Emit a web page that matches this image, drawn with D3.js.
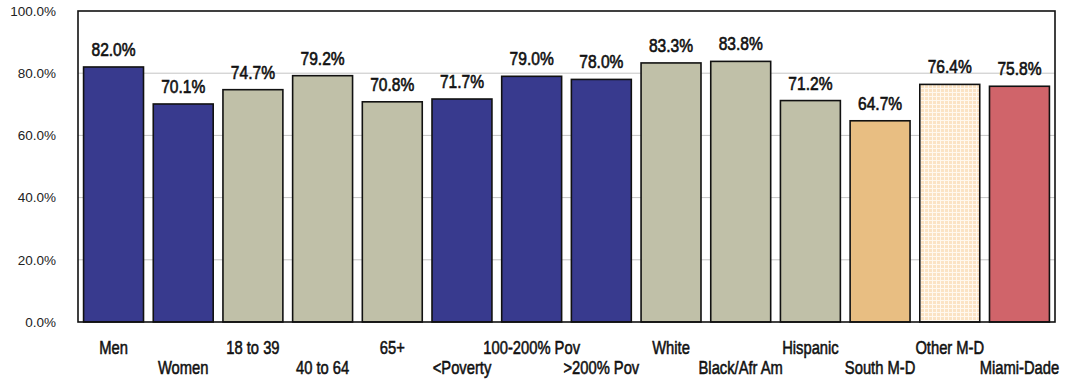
<!DOCTYPE html>
<html>
<head>
<meta charset="utf-8">
<script src="https://cdn.jsdelivr.net/npm/d3@7"></script>
<style>
  html, body { margin: 0; padding: 0; background: #fff; }
  svg { display: block; }
  text { font-family: "Liberation Sans", Arial, sans-serif; }
</style>
</head>
<body>
<svg id="chart" width="1070" height="379"></svg>
<script>
// Share of adults by group (percent)
const categories = ["Men", "Women", "18 to 39", "40 to 64", "65+", "<Poverty", "100-200% Pov",
  ">200% Pov", "White", "Black/Afr Am", "Hispanic", "South M-D", "Other M-D", "Miami-Dade"];
const values = [82.0, 70.1, 74.7, 79.2, 70.8, 71.7, 79.0, 78.0, 83.3, 83.8, 71.2, 64.7, 76.4, 75.8];
const groups = ["sex", "sex", "age", "age", "age", "pov", "pov", "pov", "race", "race", "race", "south", "other", "county"];
const yTicks = [0, 20, 40, 60, 80, 100];

const fills = {
  sex: "#383a8e", pov: "#383a8e",
  age: "#c0c0a8", race: "#c0c0a8",
  south: "#e8be82", other: "url(#checks)", county: "#d0646a"
};

const svg = d3.select("#chart");
const margin = { left: 78, right: 15, top: 11, bottom: 57 };
const W = 1070, H = 379;
const NARROW = 0.82; // horizontal squeeze for a condensed face

// light check pattern
const defs = svg.append("defs");
const pat = defs.append("pattern").attr("id", "checks").attr("patternUnits", "userSpaceOnUse")
  .attr("width", 4).attr("height", 4);
pat.append("rect").attr("width", 4).attr("height", 4).attr("fill", "#fbe3c4");
pat.append("rect").attr("x", 0).attr("y", 0).attr("width", 4).attr("height", 1).attr("fill", "#fff8ee");
pat.append("rect").attr("x", 0).attr("y", 0).attr("width", 1).attr("height", 4).attr("fill", "#fff8ee");

const x = d3.scaleBand().domain(categories).range([margin.left, W - margin.right])
  .paddingInner(0.14).paddingOuter(0.08);
const y = d3.scaleLinear().domain([0, 100]).range([H - margin.bottom, margin.top]);

// gridlines
svg.append("g").selectAll("line").data(yTicks.filter(t => t > 0 && t < 100)).join("line")
  .attr("x1", margin.left).attr("x2", W - margin.right)
  .attr("y1", d => y(d)).attr("y2", d => y(d))
  .attr("stroke", "#c4c4c4").attr("stroke-width", 1);

// y axis labels
const yAxis = d3.axisLeft(y).tickValues(yTicks).tickFormat(d => d.toFixed(1) + "%").tickSize(0).tickPadding(22);
const ya = svg.append("g").attr("transform", `translate(${margin.left},0)`).call(yAxis);
ya.select(".domain").remove();
ya.selectAll("text").attr("font-size", 13.5).attr("fill", "#222");

// bars
svg.append("g").selectAll("rect").data(values).join("rect")
  .attr("x", (d, i) => x(categories[i]))
  .attr("y", d => y(d))
  .attr("width", x.bandwidth())
  .attr("height", d => y(0) - y(d))
  .attr("fill", (d, i) => fills[groups[i]])
  .attr("stroke", "#111").attr("stroke-width", 1.6);

// value labels
svg.append("g").selectAll("text").data(values).join("text")
  .attr("transform", (d, i) => `translate(${x(categories[i]) + x.bandwidth() / 2},${y(d) - 11}) scale(${NARROW},1)`)
  .attr("text-anchor", "middle")
  .attr("font-size", 19).attr("fill", "#111")
  .attr("stroke", "#111").attr("stroke-width", 0.65)
  .text(d => d.toFixed(1) + "%");

// plot frame
svg.append("rect")
  .attr("x", margin.left).attr("y", margin.top)
  .attr("width", W - margin.left - margin.right).attr("height", H - margin.top - margin.bottom)
  .attr("fill", "none").attr("stroke", "#111").attr("stroke-width", 1.6);

// category labels, staggered in two rows
svg.append("g").selectAll("text").data(categories).join("text")
  .attr("transform", (d, i) => `translate(${x(d) + x.bandwidth() / 2},${i % 2 === 0 ? 354 : 374}) scale(${NARROW},1)`)
  .attr("text-anchor", "middle")
  .attr("font-size", 18).attr("fill", "#111")
  .attr("stroke", "#111").attr("stroke-width", 0.55)
  .text(d => d);
</script>
</body>
</html>
